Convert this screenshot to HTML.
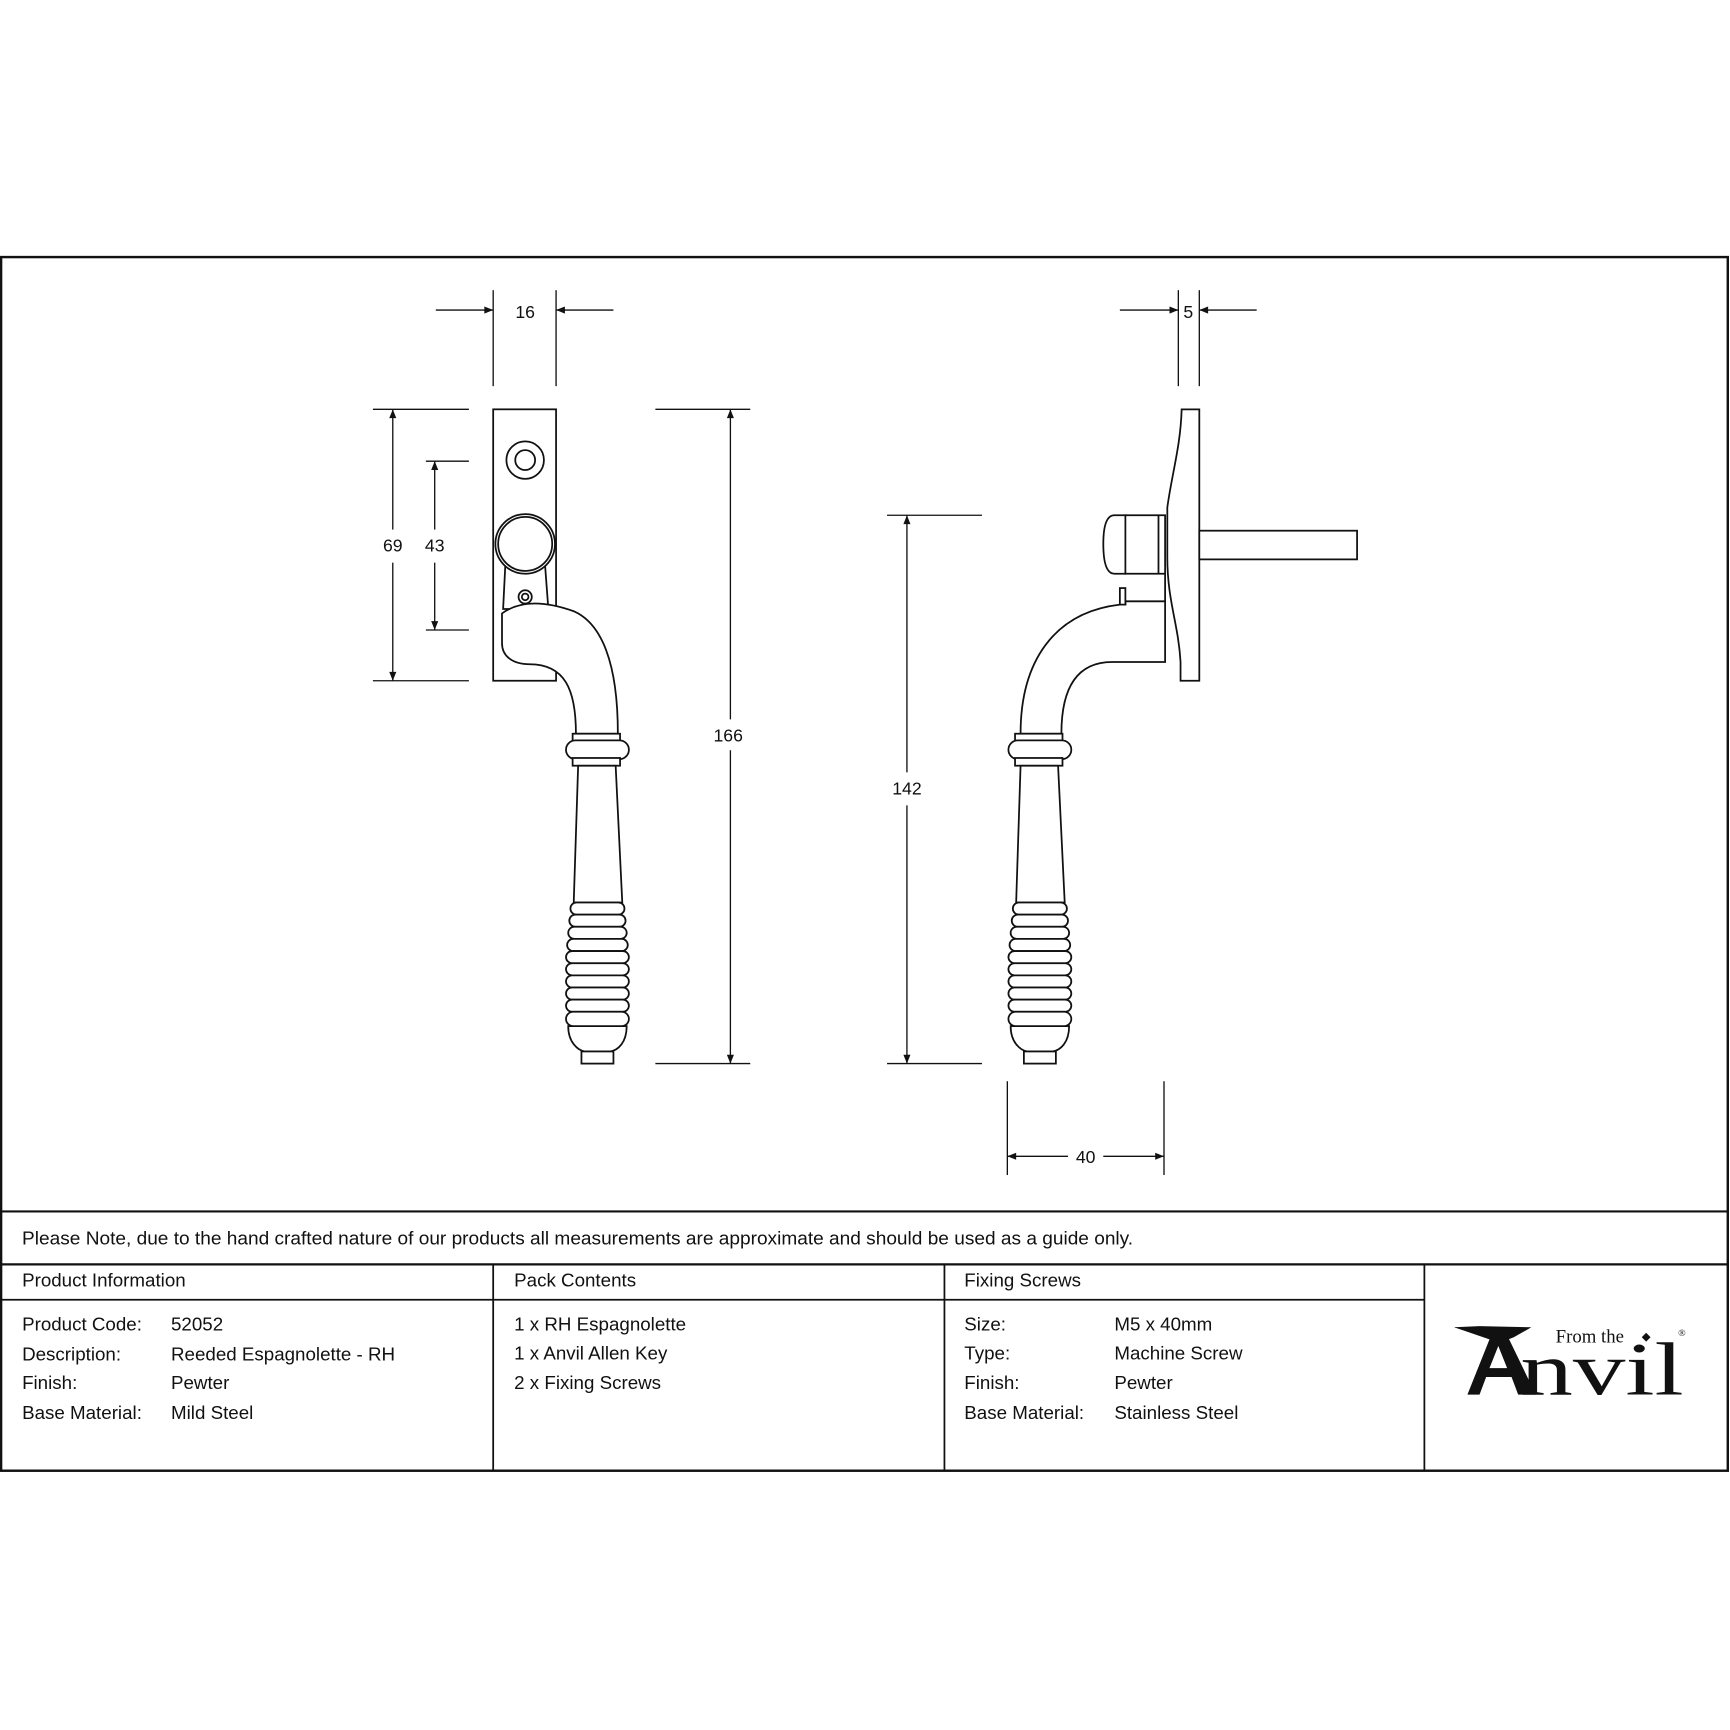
<!DOCTYPE html>
<html><head><meta charset="utf-8"><style>
html,body{margin:0;padding:0;background:#fff}
svg{display:block}
text{font-family:"Liberation Sans",sans-serif;fill:#111}
</style></head><body>
<svg width="1730" height="1730" viewBox="0 0 1568 1568" xmlns="http://www.w3.org/2000/svg">
<defs>
<marker id="ar" viewBox="0 0 10 10" refX="10" refY="5" markerWidth="12" markerHeight="8" orient="auto-start-reverse" markerUnits="userSpaceOnUse"><path d="M0,1 L10,5 L0,9 Z" fill="#111"/></marker>
<g id="handle" fill="#fff" stroke="#111" stroke-width="1.6">
<rect x="519" y="665" width="43" height="7"/>
<rect x="513" y="671" width="57" height="17" rx="8.5"/>
<rect x="519" y="687" width="43" height="7"/>
<path d="M524,694 L520,818 L564,818 L558,694 Z"/>
<path d="M515,930 C515,945 524,952 530,953 L553,953 C560,952 568,945 568,930 Z"/>
<rect x="527" y="953" width="29" height="11"/>
<rect x="517" y="818" width="49" height="11" rx="5.5"/>
<rect x="516" y="829" width="51" height="11" rx="5.5"/>
<rect x="515" y="840" width="53" height="11" rx="5.5"/>
<rect x="514" y="851" width="55" height="11" rx="5.5"/>
<rect x="513" y="862" width="57" height="11" rx="5.5"/>
<rect x="513" y="873" width="57" height="11" rx="5.5"/>
<rect x="513" y="884" width="57" height="11" rx="5.5"/>
<rect x="513" y="895" width="57" height="11" rx="5.5"/>
<rect x="513" y="906" width="57" height="11" rx="5.5"/>
<rect x="513" y="917" width="57" height="13" rx="6.5"/>
</g>
</defs>

<g stroke="#111" fill="none">
<rect x="1" y="233" width="1565" height="1100" stroke-width="2.2"/>
<line x1="0" y1="1098" x2="1567" y2="1098" stroke-width="2"/>
<line x1="0" y1="1146" x2="1567" y2="1146" stroke-width="2"/>
<line x1="0" y1="1178" x2="1291" y2="1178" stroke-width="1.6"/>
<line x1="447" y1="1146" x2="447" y2="1333" stroke-width="1.6"/>
<line x1="856" y1="1146" x2="856" y2="1333" stroke-width="1.6"/>
<line x1="1291" y1="1146" x2="1291" y2="1333" stroke-width="1.6"/>
</g>

<g font-size="17">
<text x="20" y="1128" textLength="1007" lengthAdjust="spacingAndGlyphs">Please Note, due to the hand crafted nature of our products all measurements are approximate and should be used as a guide only.</text>
<text x="20" y="1166">Product Information</text>
<text x="466" y="1166">Pack Contents</text>
<text x="874" y="1166">Fixing Screws</text>
<text x="20" y="1206">Product Code:</text><text x="155" y="1206">52052</text>
<text x="20" y="1233">Description:</text><text x="155" y="1233">Reeded Espagnolette - RH</text>
<text x="20" y="1259">Finish:</text><text x="155" y="1259">Pewter</text>
<text x="20" y="1286">Base Material:</text><text x="155" y="1286">Mild Steel</text>
<text x="466" y="1206">1 x RH Espagnolette</text>
<text x="466" y="1232">1 x Anvil Allen Key</text>
<text x="466" y="1259">2 x Fixing Screws</text>
<text x="874" y="1206">Size:</text><text x="1010" y="1206">M5 x 40mm</text>
<text x="874" y="1232">Type:</text><text x="1010" y="1232">Machine Screw</text>
<text x="874" y="1259">Finish:</text><text x="1010" y="1259">Pewter</text>
<text x="874" y="1286">Base Material:</text><text x="1010" y="1286">Stainless Steel</text>
</g>

<g>
<path d="M1318,1203 L1341,1202 L1388,1203 L1372,1212 L1362,1216 Z" fill="#111"/>
<path d="M1318,1203 L1350,1214 L1330,1264 L1341,1264 L1347,1248 L1370,1248 L1376,1264 L1392,1264 L1364,1206 Z M1350,1240 L1358,1220 L1366,1240 Z" fill="#111" fill-rule="evenodd"/>
<text x="1378" y="1264" font-size="68" textLength="148" lengthAdjust="spacingAndGlyphs" style="font-family:'Liberation Serif',serif">nvil</text>
<text x="1410" y="1217" font-size="17" style="font-family:'Liberation Serif',serif">From the</text>
<path d="M1492,1208 L1496,1212 L1492,1216 L1488,1212 Z" fill="#111"/>
<text x="1521" y="1211" font-size="9" style="font-family:'Liberation Serif',serif">®</text>
</g>

<g stroke="#111" stroke-width="1.2" fill="none">
<line x1="447" y1="263" x2="447" y2="350"/><line x1="504" y1="263" x2="504" y2="350"/>
<line x1="395" y1="281" x2="447" y2="281" marker-end="url(#ar)"/>
<line x1="556" y1="281" x2="504" y2="281" marker-end="url(#ar)"/>
<line x1="338" y1="371" x2="425" y2="371"/><line x1="338" y1="617" x2="425" y2="617"/>
<line x1="386" y1="418" x2="425" y2="418"/><line x1="386" y1="571" x2="425" y2="571"/>
<line x1="356" y1="480" x2="356" y2="371" marker-end="url(#ar)"/>
<line x1="356" y1="510" x2="356" y2="617" marker-end="url(#ar)"/>
<line x1="394" y1="480" x2="394" y2="418" marker-end="url(#ar)"/>
<line x1="394" y1="510" x2="394" y2="571" marker-end="url(#ar)"/>
<line x1="594" y1="371" x2="680" y2="371"/><line x1="594" y1="964" x2="680" y2="964"/>
<line x1="662" y1="652" x2="662" y2="371" marker-end="url(#ar)"/>
<line x1="662" y1="680" x2="662" y2="964" marker-end="url(#ar)"/>
<line x1="1068" y1="263" x2="1068" y2="350"/><line x1="1087" y1="263" x2="1087" y2="350"/>
<line x1="1015" y1="281" x2="1068" y2="281" marker-end="url(#ar)"/>
<line x1="1139" y1="281" x2="1087" y2="281" marker-end="url(#ar)"/>
<line x1="804" y1="467" x2="890" y2="467"/><line x1="804" y1="964" x2="890" y2="964"/>
<line x1="822" y1="700" x2="822" y2="467" marker-end="url(#ar)"/>
<line x1="822" y1="730" x2="822" y2="964" marker-end="url(#ar)"/>
<line x1="913" y1="980" x2="913" y2="1065"/><line x1="1055" y1="980" x2="1055" y2="1065"/>
<line x1="968" y1="1048" x2="913" y2="1048" marker-end="url(#ar)"/>
<line x1="1000" y1="1048" x2="1055" y2="1048" marker-end="url(#ar)"/>
</g>
<g font-size="16" text-anchor="middle">
<text x="476" y="288">16</text>
<text x="356" y="500">69</text>
<text x="394" y="500">43</text>
<text x="660" y="672">166</text>
<text x="1077" y="288">5</text>
<text x="822" y="720">142</text>
<text x="984" y="1054">40</text>
</g>

<g fill="#fff" stroke="#111" stroke-width="1.6">
<rect x="447" y="371" width="57" height="246"/>
<circle cx="476" cy="417" r="17"/><circle cx="476" cy="417" r="9"/>
<path d="M458,512 L456,552 L497,552 L494,512 Z"/>
<circle cx="476" cy="493" r="27"/><circle cx="476" cy="493" r="24.5"/>
<circle cx="476" cy="541" r="6"/><circle cx="476" cy="541" r="3"/>
<path d="M455,556 C470,545 492,544 520,554 C545,565 560,600 560,665 L522,665 C522,625 512,602 480,602 C465,602 455,595 455,583 Z"/>
</g>
<use href="#handle"/>

<g fill="#fff" stroke="#111" stroke-width="1.6">
<path d="M1071,371 H1087 V617 H1070 L1070,600 C1068,565 1058,545 1058,505 L1058,460 C1062,430 1070,405 1071,371 Z"/>
<rect x="1087" y="481" width="143" height="26"/>
<path d="M1020,467 L1020,520 L1010,520 C1003,520 1000,510 1000,493 C1000,476 1003,467 1010,467 Z"/>
<rect x="1020" y="467" width="36" height="53"/>
<line x1="1050" y1="467" x2="1050" y2="520"/>
<path d="M1056,520 L1056,600 L1008,600 C975,600 962,625 962,665 L925,665 C925,600 955,555 1015,548 L1020,548 L1020,545 L1056,545"/>
<rect x="1015" y="533" width="5" height="15"/>
</g>
<use href="#handle" transform="translate(401,0)"/>
</svg>
</body></html>
